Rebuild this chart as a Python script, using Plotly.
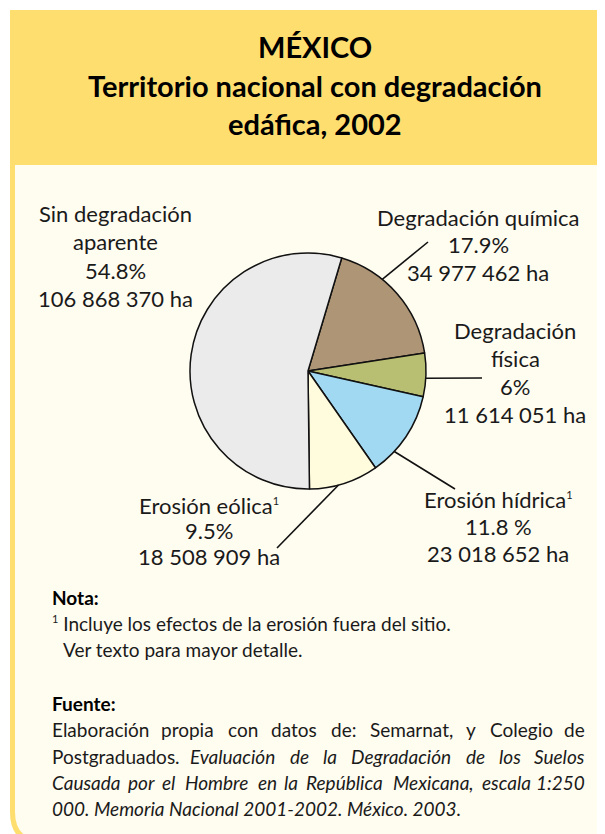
import math
import plotly.graph_objects as go

# ---------------- data ----------------
categories = ["Degradación química", "Degradación física", "Erosión hídrica",
              "Erosión eólica", "Sin degradación aparente"]
hectares = [34977462, 11614051, 23018652, 18508909, 106868370]
pct_labels = ["17.9%", "6%", "11.8 %", "9.5%", "54.8%"]
ha_labels = ["34 977 462 ha", "11 614 051 ha", "23 018 652 ha", "18 508 909 ha", "106 868 370 ha"]
slice_colors = ["#AE9576", "#B9BF72", "#A2D9F2", "#FFFBDD", "#EBEBEB"]

# page body margin offset (browser default 8px)
OFF = 8
SW, SH = 605, 834          # screen size
W, H = SW - OFF, SH - OFF  # figure size
FONT = "Lato"
TXT = "#1a1a1a"
YEL = "#FFDE70"
CREAM = "#FFFCF0"

# pie geometry (screen pixels)
cx, cy, R = 308, 371, 118
rotation = 16.6

fig = go.Figure()

fig.add_trace(go.Pie(
    labels=categories, values=hectares, sort=False, direction="clockwise",
    rotation=rotation, textinfo="none", hoverinfo="label+percent",
    marker=dict(colors=slice_colors, line=dict(color="#111111", width=1.5)),
    domain=dict(x=[(cx - R - OFF) / W, (cx + R - OFF) / W],
                y=[(SH - cy - R) / H, (SH - cy + R) / H]),
    showlegend=False,
))

# invisible axes in screen pixel units
fig.add_trace(go.Scatter(x=[OFF, SW], y=[OFF, SH], mode="markers", marker=dict(opacity=0),
                         hoverinfo="skip", showlegend=False))
fig.update_xaxes(range=[OFF, SW], visible=False, fixedrange=True)
fig.update_yaxes(range=[SH, OFF], visible=False, fixedrange=True)

shapes = []
shapes.append(dict(type="path", xref="x", yref="y",
                   path="M 12.5 160 L 12.5 812 Q 12.5 842 42 842 L 612 842 L 612 160 Z",
                   fillcolor=CREAM, line=dict(color=YEL, width=5), layer="below"))
shapes.append(dict(type="rect", xref="x", yref="y", x0=10, x1=606, y0=10, y1=165,
                   fillcolor=YEL, line=dict(width=0), layer="below"))


def edge(angle_deg):
    a = math.radians(angle_deg)
    return cx + R * math.sin(a), cy - R * math.cos(a)


leaders = [(39, (428, 242)), (93.5, (482, 378)), (133, (455, 489)), (165, (277, 548))]
for ang, (ex, ey) in leaders:
    x0, y0 = edge(ang)
    shapes.append(dict(type="line", xref="x", yref="y", x0=x0, y0=y0, x1=ex, y1=ey,
                       line=dict(color="#111111", width=1.6)))

annotations = []


def txt(x, y, s, size, bold=False, xanchor="center"):
    if bold:
        s = "<b>" + s + "</b>"
    annotations.append(dict(x=x, y=y, xref="x", yref="y", text=s, showarrow=False,
                            xanchor=xanchor, yanchor="middle",
                            font=dict(family=FONT, size=size, color="#000000" if bold else TXT)))


SUP = "<sup><span style='font-size:11px'>1</span></sup>"

# title
TS = 29
txt(315, 46, "MÉXICO", TS, bold=True)
txt(315, 85, "Territorio nacional con degradación", TS, bold=True)
txt(315, 123, "edáfica, 2002", TS, bold=True)

LS = 22
for i, line in enumerate(["Sin degradación", "aparente", pct_labels[4], ha_labels[4]]):
    txt(115, 213 + 28.5 * i, line, LS)
for i, line in enumerate(["Degradación química", pct_labels[0], ha_labels[0]]):
    txt(478, 217 + 27.5 * i, line, LS)
for i, line in enumerate(["Degradación", "física", pct_labels[1], ha_labels[1]]):
    txt(515, 330 + 28 * i, line, LS)
for i, line in enumerate(["Erosión hídrica" + SUP, pct_labels[2], ha_labels[2]]):
    txt(498, 499 + 27 * i, line, LS)
for i, line in enumerate(["Erosión eólica" + SUP, pct_labels[3], ha_labels[3]]):
    txt(209, 505 + 25.5 * i, line, LS)

# ---- notes ----
NS = 19
txt(50, 597, "Nota:", NS, bold=True, xanchor="left")
txt(50, 623, SUP + " Incluye los efectos de la erosión fuera del sitio.", NS, xanchor="left")
txt(61, 649, "Ver texto para mayor detalle.", NS, xanchor="left")
txt(50, 703, "Fuente:", NS, bold=True, xanchor="left")

CW = {}
for ch, w in zip("abcdefghijklmnopqrstuvwxyz",
                 [.51, .56, .46, .56, .52, .32, .50, .56, .24, .24, .50, .24, .84,
                  .56, .56, .56, .56, .35, .42, .34, .56, .50, .76, .49, .50, .45]):
    CW[ch] = w
CW.update({"á": .51, "é": .52, "í": .24, "ó": .56, "ú": .56,
           "E": .55, "C": .66, "S": .50, "P": .57, "H": .74, "M": .88, "R": .60,
           "D": .73, "G": .71, "N": .75, ".": .22, ",": .22, ":": .24, "-": .35})


def wwidth(w, size):
    return sum(CW.get(c, .58) for c in w) * size


def justify(y, words, italic_from, size, x0=50, x1=587):
    widths = [wwidth(w, size) for w in words]
    gap = (x1 - x0 - sum(widths)) / (len(words) - 1)
    pos = x0
    for k, (w, wd) in enumerate(zip(words, widths)):
        s = "<i>" + w + "</i>" if k >= italic_from else w
        if k == 0:
            txt(x0, y, s, size, xanchor="left")
        elif k == len(words) - 1:
            txt(x1, y, s, size, xanchor="right")
        else:
            txt(pos + wd / 2, y, s, size)
        pos += wd + gap


justify(729, "Elaboración propia con datos de: Semarnat, y Colegio de".split(), 99, NS)
justify(756, "Postgraduados. Evaluación de la Degradación de los Suelos".split(), 1, NS)
justify(782, "Causada por el Hombre en la República Mexicana, escala 1:250".split(), 0, NS)
txt(50, 808, "<i>000. Memoria Nacional 2001-2002. México. 2003.</i>", NS, xanchor="left")

fig.update_layout(width=W, height=H, margin=dict(l=0, r=0, t=0, b=0),
                  paper_bgcolor="white", plot_bgcolor="rgba(0,0,0,0)",
                  shapes=shapes, annotations=annotations, hovermode="closest")

fig.write_html("out.html")
